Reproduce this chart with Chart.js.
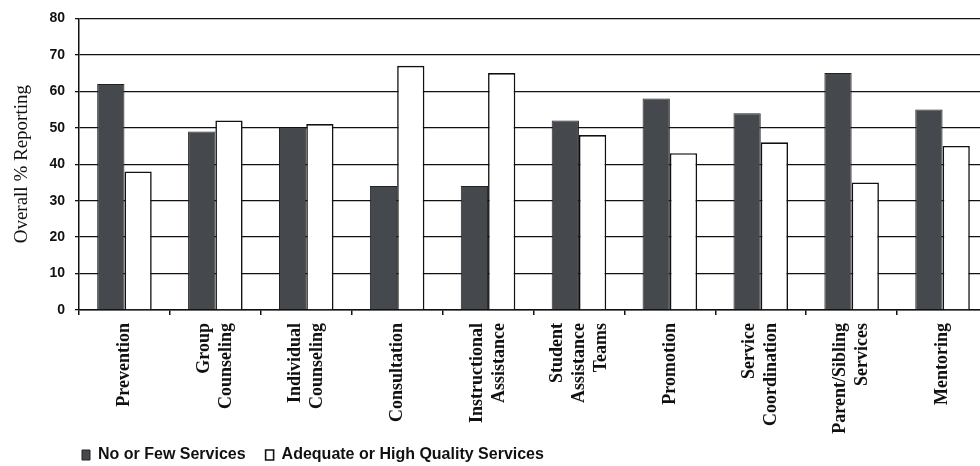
<!DOCTYPE html>
<html lang="en">
<head>
    <meta charset="UTF-8">
    <title>Overall % Reporting by Service</title>
    <script src="https://cdn.jsdelivr.net/npm/chart.js"></script>
    <style>
        html, body {
            margin: 0;
            padding: 0;
            overflow: hidden;
            background: #ffffff;
        }
        /* the plot runs a little past the right edge, like the scan */
        #wrap {
            width: 990px;
            height: 466px;
        }
    </style>
</head>
<body>
    <div id="wrap"><canvas id="servicesChart"></canvas></div>

    <script>
        // categories (one array per tick label, split into lines)
        const categories = [
            ['Prevention'],
            ['Group', 'Counseling'],
            ['Individual', 'Counseling'],
            ['Consultation'],
            ['Instructional', 'Assistance'],
            ['Student', 'Assistance', 'Teams'],
            ['Promotion'],
            ['Service', 'Coordination'],
            ['Parent/Sibling', 'Services'],
            ['Mentoring']
        ];
        const seriesNames = ['No or Few Services', 'Adequate or High Quality Services'];
        const noOrFew = [62, 49, 50, 34, 34, 52, 58, 54, 65, 55];
        const adequateOrHigh = [38, 52, 51, 67, 65, 48, 43, 46, 35, 45];
        const yTicks = [0, 10, 20, 30, 40, 50, 60, 70, 80];

        // rotated category labels, centred on each tick
        const xLabels = {
            id: 'xLabels',
            afterDraw(chart) {
                const scale = chart.scales.x;
                const ctx = chart.ctx;
                const gap = 22;
                ctx.save();
                ctx.font = 'bold 18px "Liberation Serif", "DejaVu Serif", serif';
                ctx.fillStyle = '#111';
                ctx.textAlign = 'right';
                ctx.textBaseline = 'middle';
                scale.ticks.forEach((t, i) => {
                    const lines = categories[i];
                    const cx = scale.getPixelForTick(i);
                    lines.forEach((line, j) => {
                        const x = cx + (j - (lines.length - 1) / 2) * gap;
                        ctx.save();
                        ctx.translate(x, scale.top + 13);
                        ctx.rotate(-Math.PI / 2);
                        ctx.fillText(line, 0, 0);
                        ctx.restore();
                    });
                });
                ctx.restore();
            }
        };

        // move the legend to the lower left corner
        const legendSpot = {
            id: 'legendSpot',
            afterLayout(chart) {
                const lg = chart.legend;
                const h = lg.bottom - lg.top;
                lg.left = 62;
                lg.top = 427;
                lg.bottom = 427 + h;
            }
        };

        const ctx = document.getElementById('servicesChart').getContext('2d');
        new Chart(ctx, {
            type: 'bar',
            data: {
                labels: categories.map(c => c.join(' ')),
                datasets: [{
                    label: seriesNames[0],
                    data: noOrFew,
                    backgroundColor: '#45484d',
                    borderColor: '#222',
                    borderWidth: 1
                }, {
                    label: seriesNames[1],
                    data: adequateOrHigh,
                    backgroundColor: '#ffffff',
                    borderColor: '#111',
                    borderWidth: 1.6
                }]
            },
            options: {
                responsive: true,
                maintainAspectRatio: false,
                animation: false,
                layout: {
                    padding: { top: 17, right: 2, bottom: 0, left: 0 }
                },
                datasets: {
                    bar: {
                        categoryPercentage: 0.6,
                        barPercentage: 1.0
                    }
                },
                scales: {
                    x: {
                        afterFit: (scale) => { scale.height = 110; },
                        grid: {
                            offset: true,
                            drawOnChartArea: false,
                            drawTicks: true,
                            tickLength: 5,
                            color: '#111',
                            lineWidth: 1.5
                        },
                        border: { color: '#111', width: 1.5 },
                        ticks: { display: false, minRotation: 90, maxRotation: 90 }
                    },
                    y: {
                        min: 0,
                        max: 80,
                        afterFit: (scale) => { scale.width = 79; },
                        afterBuildTicks: (scale) => {
                            scale.ticks = yTicks.map(v => ({ value: v }));
                        },
                        grid: {
                            color: '#111',
                            lineWidth: 1.3,
                            drawTicks: true,
                            tickLength: 4
                        },
                        border: { color: '#111', width: 1.5 },
                        ticks: {
                            padding: 10,
                            color: '#111',
                            font: { family: '"Liberation Sans", Arial, sans-serif', size: 14, weight: 'bold' }
                        },
                        title: {
                            display: true,
                            text: 'Overall % Reporting',
                            color: '#111',
                            padding: { top: 11, bottom: 0 },
                            font: { family: '"Liberation Serif", "DejaVu Serif", serif', size: 19, weight: 'normal' }
                        }
                    }
                },
                plugins: {
                    legend: {
                        display: true,
                        position: 'bottom',
                        align: 'start',
                        labels: {
                            boxWidth: 8,
                            boxHeight: 10,
                            padding: 20,
                            color: '#111',
                            font: { family: '"Liberation Sans", Arial, sans-serif', size: 16, weight: 'bold' }
                        }
                    },
                    tooltip: { enabled: false }
                }
            },
            plugins: [xLabels, legendSpot]
        });
    </script>
</body>
</html>
